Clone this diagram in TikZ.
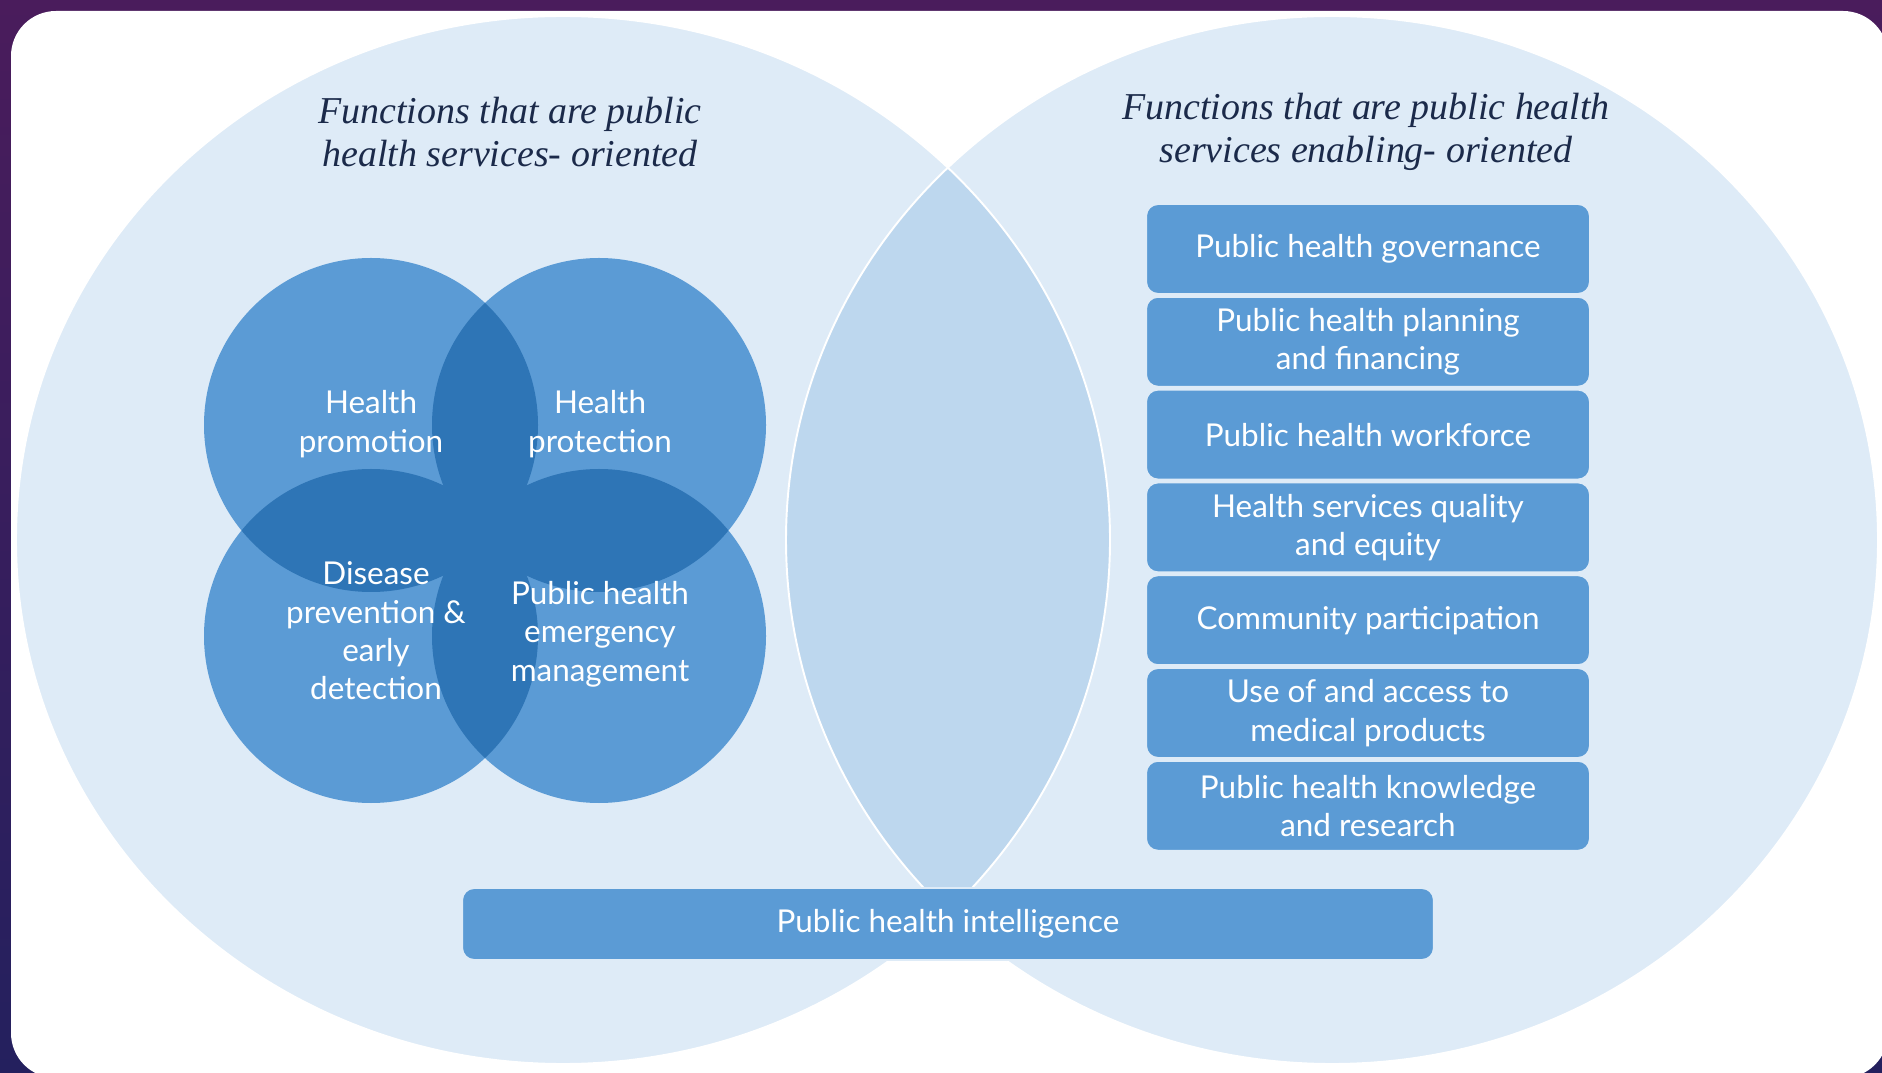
\documentclass[tikz,border=0pt]{standalone}
\usepackage{fontspec}
\setmainfont{Lato}
\newfontfamily\headfont{Liberation Serif}
\usepackage{xcolor}
\usepackage{tikz}

\definecolor{frametop}{HTML}{4A1C5C}
\definecolor{framebot}{HTML}{24205E}
\definecolor{palefill}{HTML}{DEEBF7}
\definecolor{lensfill}{HTML}{BDD7EE}
\definecolor{midblue}{HTML}{5B9BD5}
\definecolor{deepblue}{HTML}{2E75B6}
\definecolor{titleink}{HTML}{1B2A4A}

\begin{document}
\begin{tikzpicture}[x=0.02cm, y=0.02cm, font=\fontsize{17.9}{21.8}\selectfont,
    fnbox/.style={draw=white!80!midblue, line width=1.1pt, fill=midblue, rounded corners=0.24cm,
      text=white, align=center, minimum width=8.88cm, minimum height=1.8cm, inner sep=0pt},
    circtxt/.style={text=white, align=center, inner sep=0pt},
    headtxt/.style={text=titleink, align=center, font=\headfont\itshape\fontsize{21.6}{24.8}\selectfont}]

    % 1. frame and white card
    \clip (0,0) rectangle (1882,1072);
    \shade[top color=frametop, bottom color=framebot] (0,0) rectangle (1882,1072);
    \fill[white, rounded corners=0.9cm] (11,-6) rectangle (1888,1061);

    % 2. the two big ellipses and their lens
    \coordinate (lc) at (563,532);
    \coordinate (rc) at (1332,532);
    \fill[palefill] (lc) ellipse [x radius=547, y radius=524];
    \fill[palefill] (rc) ellipse [x radius=546, y radius=524];
    \begin{scope}
        \clip (lc) ellipse [x radius=547, y radius=524];
        \fill[lensfill] (rc) ellipse [x radius=546, y radius=524];
    \end{scope}
    \draw[white, line width=1.1pt] (lc) ellipse [x radius=547, y radius=524];
    \draw[white, line width=1.1pt] (rc) ellipse [x radius=546, y radius=524];

    % 3. four overlapping circles
    \coordinate (prom) at (371,647);
    \coordinate (prot) at (599,647);
    \coordinate (prev) at (371,436);
    \coordinate (emer) at (599,436);
    \foreach \c in {prom, prot, prev, emer}
        \fill[midblue] (\c) circle [radius=167];
    \foreach \a/\b in {prom/prot, prom/prev, prom/emer, prot/prev, prot/emer, prev/emer} {
        \begin{scope}
            \clip (\a) circle [radius=167];
            \fill[deepblue] (\b) circle [radius=167];
        \end{scope}
    }

    \node[circtxt] (promtxt) at (371,648) {Health\\promotion};
    \node[circtxt] (prottxt) at (600,648) {Health\\protection};
    \node[circtxt] (prevtxt) at (376,441) {Disease\\prevention \&\\early\\detection};
    \node[circtxt] (emertxt) at (600,438) {Public health\\emergency\\management};

    % 4. enabling functions
    \foreach \i/\txt in {0/{Public health governance},
                         1/{Public health planning\\and financing},
                         2/{Public health workforce},
                         3/{Health services quality\\and equity},
                         4/{Community participation},
                         5/{Use of and access to\\medical products},
                         6/{Public health knowledge\\and research}}
        \node[fnbox] (box\i) at (1368,{823-92.8*\i}) {\txt};

    % 5. shared bar
    \node[fnbox, minimum width=19.44cm, minimum height=1.44cm] (intel) at (948,148) {Public health intelligence};

    % 6. headings
    \node[headtxt] (lefthead) at (510,940) {Functions that are public\\health services- oriented};
    \node[headtxt] (righthead) at (1366,940) {Functions that are public health\\services enabling- oriented};

\end{tikzpicture}
\end{document}
